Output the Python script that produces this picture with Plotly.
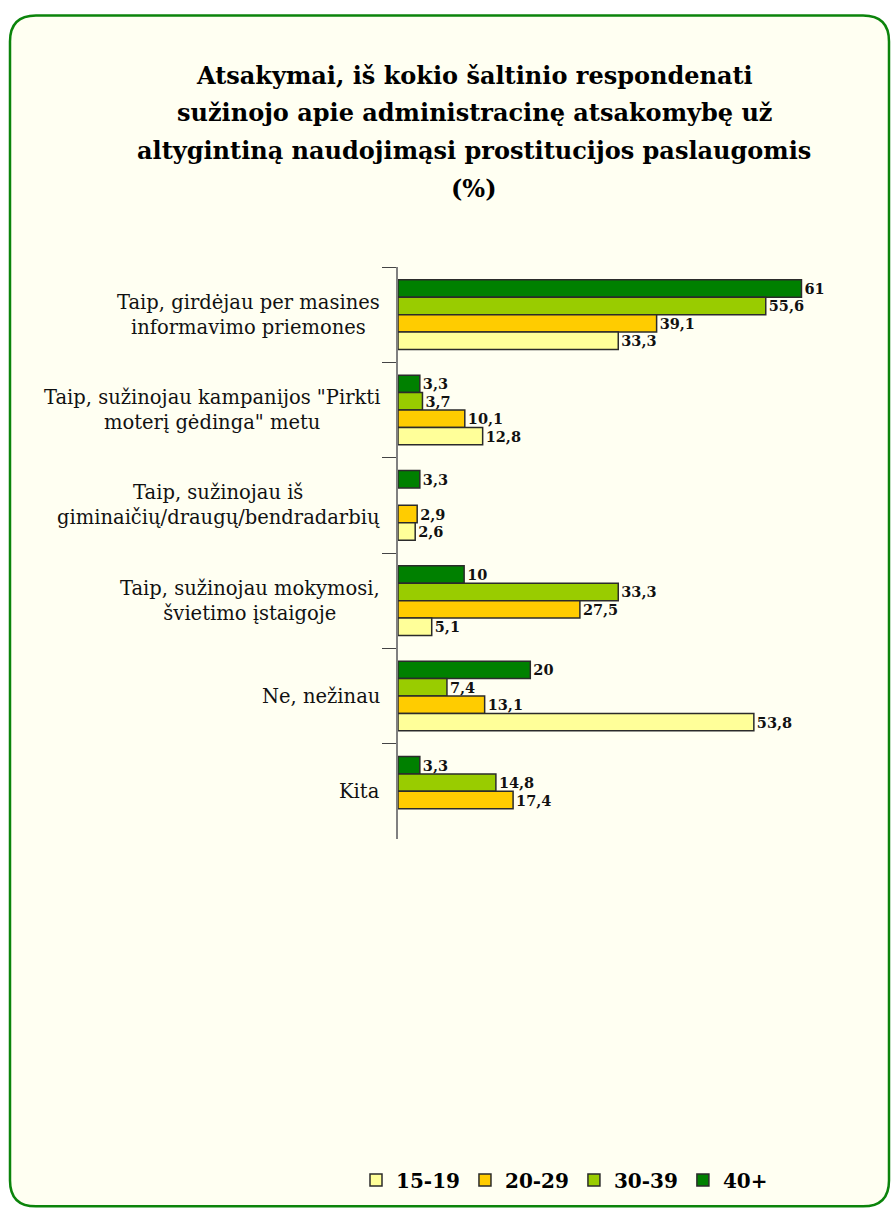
import plotly.graph_objects as go

categories = [
    "Taip, girdėjau per masines<br>informavimo priemones",
    "Taip, sužinojau kampanijos \"Pirkti<br>moterį gėdinga\" metu",
    "Taip, sužinojau iš<br>giminaičių/draugų/bendradarbių",
    "Taip, sužinojau mokymosi,<br>švietimo įstaigoje",
    "Ne, nežinau",
    "Kita",
]
age_15_19 = [33.3, 12.8, 2.6, 5.1, 53.8, None]
age_20_29 = [39.1, 10.1, 2.9, 27.5, 13.1, 17.4]
age_30_39 = [55.6, 3.7, None, 33.3, 7.4, 14.8]
age_40_plus = [61, 3.3, 3.3, 10, 20, 3.3]

title_lines = [
    "Atsakymai, iš kokio šaltinio respondenati",
    "sužinojo apie administracinę atsakomybę už",
    "altygintiną naudojimąsi prostitucijos paslaugomis",
    "(%)",
]

FONT = "DejaVu Serif"
W, H = 891, 1210
L, R, T, B = 398, 30, 267, 370
PW, PH = W - L - R, H - T - B


def px(x):
    return (x - L) / PW


def py(y):
    return (H - B - y) / PH


def fmt(v):
    return "" if v is None else f"{v:g}".replace(".", ",")


series = [
    ("40+", age_40_plus, "#008000"),
    ("30-39", age_30_39, "#99CC00"),
    ("20-29", age_20_29, "#FFCC00"),
    ("15-19", age_15_19, "#FFFF99"),
]

fig = go.Figure()
for name, vals, color in series:
    fig.add_trace(
        go.Bar(
            y=categories,
            x=vals,
            name=f"<b>{name}</b>",
            orientation="h",
            marker=dict(color=color, line=dict(color="#2b2b2b", width=1.5)),
            text=[fmt(v) for v in vals],
            textposition="outside",
            constraintext="none",
            textfont=dict(family=FONT, size=14.5, color="#111"),
            texttemplate="<b>%{text}</b>",
            cliponaxis=False,
        )
    )

# rounded frame
x0, x1, y0, y1, r = 10, 889, 15, 1208, 26
path = (
    f"M {px(x0 + r)},{py(y0)} L {px(x1 - r)},{py(y0)} "
    f"Q {px(x1)},{py(y0)} {px(x1)},{py(y0 + r)} "
    f"L {px(x1)},{py(y1 - r)} Q {px(x1)},{py(y1)} {px(x1 - r)},{py(y1)} "
    f"L {px(x0 + r)},{py(y1)} Q {px(x0)},{py(y1)} {px(x0)},{py(y1 - r)} "
    f"L {px(x0)},{py(y0 + r)} Q {px(x0)},{py(y0)} {px(x0 + r)},{py(y0)} Z"
)
shapes = [
    dict(type="path", path=path, xref="paper", yref="paper",
         fillcolor="#FFFFF2", line=dict(color="#0B840B", width=2.5), layer="below")
]

annotations = []
for i, line in enumerate(title_lines):
    annotations.append(dict(
        text=f"<b>{line}</b>", xref="paper", yref="paper",
        x=px(474), y=py(75 + i * 37.7), xanchor="center", yanchor="middle",
        showarrow=False, font=dict(family=FONT, size=24, color="#000"),
    ))
for cat in categories:
    annotations.append(dict(
        text=cat, xref="paper", yref="y", x=px(382), y=cat,
        xanchor="right", yanchor="middle", align="center", showarrow=False,
        font=dict(family=FONT, size=19.5, color="#111"),
    ))

fig.update_layout(
    width=W,
    height=H,
    margin=dict(l=L, r=R, t=T, b=B),
    barmode="group",
    bargap=0.27,
    bargroupgap=0,
    paper_bgcolor="white",
    plot_bgcolor="rgba(0,0,0,0)",
    shapes=shapes,
    annotations=annotations,
    showlegend=True,
    legend=dict(
        orientation="h", traceorder="reversed",
        x=px(356), y=py(1180), xanchor="left", yanchor="middle",
        font=dict(family=FONT, size=20, color="#000"),
        bgcolor="rgba(0,0,0,0)",
    ),
    font=dict(family=FONT),
)
fig.update_xaxes(visible=False, range=[0, 70])
fig.update_yaxes(
    autorange="reversed", showticklabels=False, ticks="outside",
    tickson="boundaries", ticklen=14, tickcolor="#444", tickwidth=1.2,
    showline=True, linecolor="#808080", linewidth=2, showgrid=False,
)

fig.write_html(
    "out.html",
    config={"displayModeBar": False},
    post_script="document.body.style.margin='0';",
)
